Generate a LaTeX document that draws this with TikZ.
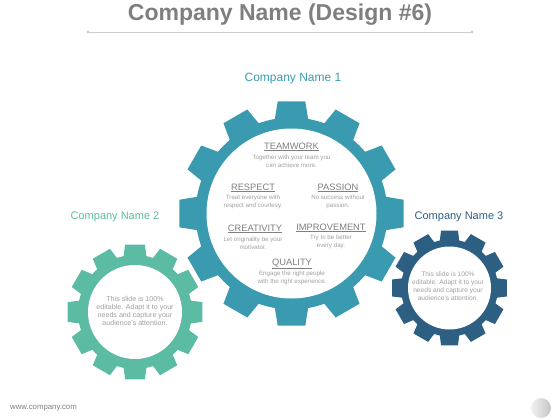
\documentclass[tikz,border=0pt]{standalone}
\usepackage{fontspec}
\setmainfont{Liberation Sans}
\usepackage{xcolor}
\definecolor{gearteal}{HTML}{3A9BB0}
\definecolor{geargreen}{HTML}{5CBBA3}
\definecolor{gearblue}{HTML}{2C5F82}
\definecolor{headgray}{HTML}{7F7F7F}
\definecolor{notegray}{HTML}{A0A0A0}

\begin{document}
\begin{tikzpicture}[x=1pt, y=-1pt,
    head/.style={text=headgray, font=\fontsize{9.3}{10}\selectfont, inner sep=0pt},
    note/.style={text=notegray, font=\fontsize{6.2}{8}\selectfont, align=center, inner sep=0pt},
    bignote/.style={note, font=\fontsize{7.1}{8.3}\selectfont},
    gearname/.style={font=\fontsize{11}{12}\selectfont, inner sep=0pt}]
    \useasboundingbox (0,0) rectangle (560,420);
    % title
    \node[text=headgray, font=\fontsize{23}{26}\selectfont\bfseries] (title) at (280,15) {Company Name (Design \#6)};
    \coordinate (lineL) at (88,32);
    \coordinate (lineR) at (472,32);
    \draw[gray!40, thick] (lineL) -- (lineR);
    \fill[gray!40] (lineL) circle[radius=1.6] (lineR) circle[radius=1.6];
    % gears: centre x/centre y/root/outer/hole/base half angle/tip half angle/colour
    \foreach \cx/\cy/\rr/\ro/\ri/\hb/\ht/\col in {291.5/213.5/96/113/85/10/7/gearteal,
                                                135/312/57/68/47/11.5/8.4/geargreen,
                                                449.5/288/48.5/58/41.5/11.5/8.4/gearblue}{
        \begin{scope}[shift={(\cx,\cy)}]
            \fill[\col] ({90-\hb}:\rr) \foreach \k in {0,...,11}{
                -- ({90+30*\k-\hb}:\rr) -- ({90+30*\k-\ht}:\ro) -- ({90+30*\k+\ht}:\ro)
                -- ({90+30*\k+\hb}:\rr) arc[start angle={90+30*\k+\hb}, end angle={90+30*(\k+1)-\hb}, radius=\rr]} -- cycle;
            \fill[white] (0,0) circle[radius=\ri];
        \end{scope}
    }
    % names
    \node[gearname, text=gearteal, font=\fontsize{12}{13}\selectfont] (name1) at (293,79) {Company Name 1};
    \node[gearname, text=geargreen] (name2) at (115,217) {Company Name 2};
    \node[gearname, text=gearblue] (name3) at (459,217) {Company Name 3};
    % big gear texts
    \node[head] (teamwork) at (291.5,147) {\underline{TEAMWORK}};
    \node[note] (teamworkTxt) at (291.5,161) {Together with your team you\\can achieve more.};
    \node[head] (respect) at (253,188) {\underline{RESPECT}};
    \node[note] (respectTxt) at (253,202) {Treat everyone with\\respect and courtesy.};
    \node[head] (passion) at (338,188) {\underline{PASSION}};
    \node[note] (passionTxt) at (338,202) {No success without\\passion.};
    \node[head] (creativity) at (255,229) {\underline{CREATIVITY}};
    \node[note] (creativityTxt) at (253,243) {Let originality be your\\motivator.};
    \node[head] (improvement) at (331,228) {\underline{IMPROVEMENT}};
    \node[note] (improvementTxt) at (331,242) {Try to be better\\every day.};
    \node[head] (quality) at (292,264) {\underline{QUALITY}};
    \node[note] (qualityTxt) at (292,278) {Engage the right people\\with the right experience.};
    % small gear texts
    \node[bignote] (greenTxt) at (135,311) {This slide is 100\%\\editable. Adapt it to your\\needs and capture your\\audience's attention.};
    \node[bignote, font=\fontsize{6.6}{8}\selectfont] (blueTxt) at (448,286.5) {This slide is 100\%\\editable. Adapt it to your\\needs and capture your\\audience's attention.};
    % footer
    \node[text=headgray, font=\fontsize{7.8}{9}\selectfont, anchor=west, inner sep=0pt] (url) at (10,408) {www.company.com};
    \shade[left color=gray!10, right color=gray!45] (541,408) circle[radius=10];
\end{tikzpicture}
\end{document}
